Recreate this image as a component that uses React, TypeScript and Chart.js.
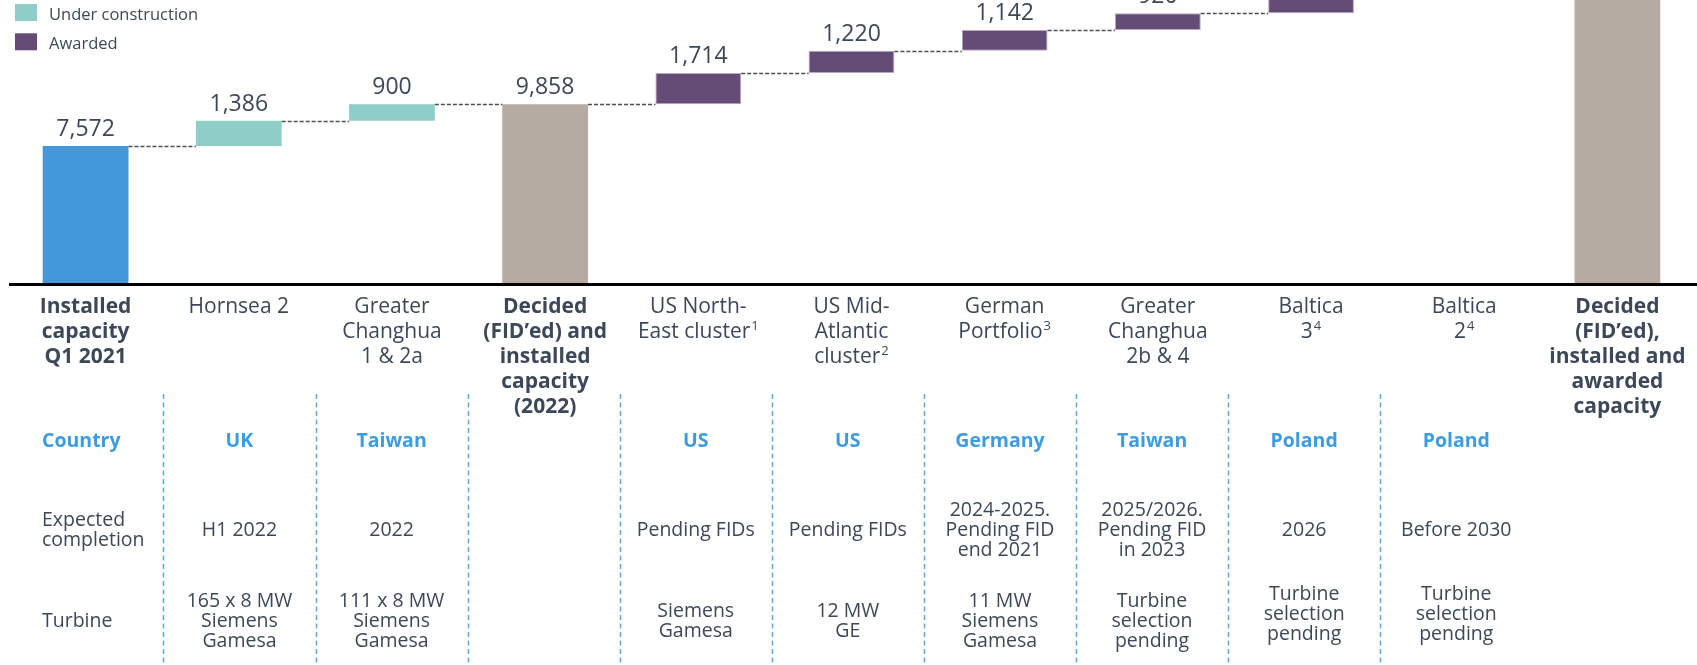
import React, { useEffect, useRef } from "react";
import { Chart, registerables } from "chart.js";

Chart.register(...registerables);

// ---------- data ----------
const categories = [
  "Installed capacity Q1 2021",
  "Hornsea 2",
  "Greater Changhua 1 & 2a",
  "Decided (FID'ed) and installed capacity (2022)",
  "US North-East cluster",
  "US Mid-Atlantic cluster",
  "German Portfolio",
  "Greater Changhua 2b & 4",
  "Baltica 3",
  "Baltica 2",
  "Decided (FID'ed), installed and awarded capacity",
];
// "^" marks a superscript part
const categoryLines: string[][] = [
  ["Installed", "capacity", "Q1 2021"],
  ["Hornsea 2"],
  ["Greater", "Changhua", "1 & 2a"],
  ["Decided", "(FID\u2019ed) and", "installed", "capacity", "(2022)"],
  ["US North-", "East cluster^1"],
  ["US Mid-", "Atlantic", "cluster^2"],
  ["German", "Portfolio^3"],
  ["Greater", "Changhua", "2b & 4"],
  ["Baltica", "3^4"],
  ["Baltica", "2^4"],
  ["Decided", "(FID\u2019ed),", "installed and", "awarded", "capacity"],
];
const categoryBold = [true, false, false, true, false, false, false, false, false, false, true];
const values = [7572, 1386, 900, 9858, 1714, 1220, 1142, 920, 1045, 1498, 17397];
const isTotal = [true, false, false, true, false, false, false, false, false, false, true];
const barKind = ["installed", "construction", "construction", "total", "awarded", "awarded", "awarded", "awarded", "awarded", "awarded", "total"];
const valueLabels = ["7,572", "1,386", "900", "9,858", "1,714", "1,220", "1,142", "920", "1,045", "1,498", "17,397"];

const countryRow = ["Country", "UK", "Taiwan", "", "US", "US", "Germany", "Taiwan", "Poland", "Poland", ""];
const completionRow: string[][] = [
  ["Expected", "completion"],
  ["H1 2022"],
  ["2022"],
  [],
  ["Pending FIDs"],
  ["Pending FIDs"],
  ["2024-2025.", "Pending FID", "end 2021"],
  ["2025/2026.", "Pending FID", "in 2023"],
  ["2026"],
  ["Before 2030"],
  [],
];
const turbineRow: string[][] = [
  ["Turbine"],
  ["165 x 8 MW", "Siemens", "Gamesa"],
  ["111 x 8 MW", "Siemens", "Gamesa"],
  [],
  ["Siemens", "Gamesa"],
  ["12 MW", "GE"],
  ["11 MW", "Siemens", "Gamesa"],
  ["Turbine", "selection", "pending"],
  ["Turbine", "selection", "pending"],
  ["Turbine", "selection", "pending"],
  [],
];
const legendLabels = ["Under construction", "Awarded"];
const legendKinds = ["construction", "awarded"];

// ---------- styles ----------
const COLORS: Record<string, string> = {
  installed: "#4298da",
  construction: "#8fcec7",
  awarded: "#654c76",
  total: "#b5aba2",
};
const TEXT = "#3c4858";
const BLUE_TEXT = "#3d9be0";
const FONT = '"Open Sans", "Noto Sans", sans-serif';
// table grid (slightly narrower than the bar columns in the source)
const TABLE_FIRST_SEP = 163.4;
const TABLE_COL_W = 152.1;
const TURBINE_SHIFT: Record<number, number> = { 8: -6.5, 9: -6.5 };

function App() {
  const ref = useRef<HTMLCanvasElement | null>(null);

  useEffect(() => {
    const canvas = ref.current;
    if (!canvas) return;

    const ranges: [number, number][] = [];
    const levels: number[] = [];
    let running = 0;
    values.forEach((v, i) => {
      if (isTotal[i]) {
        ranges.push([0, v]);
        running = v;
      } else {
        ranges.push([running, running + v]);
        running += v;
      }
      levels.push(running);
    });

    const drawRich = (
      ctx: CanvasRenderingContext2D,
      text: string,
      cx: number,
      y: number,
      font: string,
      supFont: string
    ) => {
      const parts = text.split("^");
      const base = parts[0];
      const sup = parts[1] || "";
      ctx.font = font;
      const wb = ctx.measureText(base).width;
      ctx.font = supFont;
      const ws = sup ? ctx.measureText(sup).width + 1 : 0;
      const x0 = cx - (wb + ws) / 2;
      ctx.textAlign = "left";
      ctx.font = font;
      ctx.fillText(base, x0, y);
      if (sup) {
        ctx.font = supFont;
        ctx.fillText(sup, x0 + wb + 1, y - 8);
      }
    };

    const overlay = {
      id: "waterfallOverlay",
      afterDatasetsDraw(chart: any) {
        const ctx: CanvasRenderingContext2D = chart.ctx;
        const meta = chart.getDatasetMeta(0);
        const y = chart.scales.y;
        const x = chart.scales.x;
        const n = categories.length;
        const centers = categories.map((_, i) => x.getPixelForValue(i));
        const tableCenter = (i: number) => TABLE_FIRST_SEP + (i - 0.5) * TABLE_COL_W;
        ctx.save();

        // connectors
        ctx.strokeStyle = "#4a4f57";
        ctx.lineWidth = 1.4;
        ctx.setLineDash([4, 2]);
        for (let i = 0; i < n - 1; i++) {
          const a: any = meta.data[i];
          const b: any = meta.data[i + 1];
          const yy = Math.round(y.getPixelForValue(levels[i])) + 0.5;
          ctx.beginPath();
          ctx.moveTo(a.x + a.width / 2, yy);
          ctx.lineTo(b.x - b.width / 2, yy);
          ctx.stroke();
        }
        ctx.setLineDash([]);

        // axis line
        ctx.strokeStyle = "#000";
        ctx.lineWidth = 3;
        const axisY = y.getPixelForValue(0) + 0.5;
        ctx.beginPath();
        ctx.moveTo(9, axisY);
        ctx.lineTo(chart.width, axisY);
        ctx.stroke();

        // value labels
        ctx.fillStyle = TEXT;
        ctx.textAlign = "center";
        ctx.textBaseline = "alphabetic";
        ctx.font = `23px ${FONT}`;
        for (let i = 0; i < n; i++) {
          const top = y.getPixelForValue(ranges[i][1]);
          ctx.fillText(valueLabels[i], centers[i], top - 10);
        }

        // category labels
        for (let i = 0; i < n; i++) {
          const font = `${categoryBold[i] ? "bold " : ""}21px ${FONT}`;
          const supFont = `${categoryBold[i] ? "bold " : ""}13px ${FONT}`;
          categoryLines[i].forEach((ln, k) => {
            drawRich(ctx, ln, centers[i], 312.5 + k * 25.2, font, supFont);
          });
        }

        // table dashed separators
        ctx.strokeStyle = "#5aa9e0";
        ctx.lineWidth = 1.5;
        ctx.setLineDash([5, 3.5]);
        for (let j = 0; j < 9; j++) {
          const xx = Math.round(TABLE_FIRST_SEP + j * TABLE_COL_W) + 0.5;
          ctx.beginPath();
          ctx.moveTo(xx, 394);
          ctx.lineTo(xx, chart.height);
          ctx.stroke();
        }
        ctx.setLineDash([]);

        // country row
        ctx.fillStyle = BLUE_TEXT;
        ctx.font = `bold 19.5px ${FONT}`;
        countryRow.forEach((t, i) => {
          if (!t) return;
          if (i === 0) {
            ctx.textAlign = "left";
            ctx.fillText(t, 42, 447);
          } else {
            ctx.textAlign = "center";
            ctx.fillText(t, tableCenter(i), 447);
          }
        });

        // completion & turbine rows
        const drawBlock = (rows: string[][], mid: number, gap: number, shift: Record<number, number>) => {
          ctx.fillStyle = TEXT;
          ctx.font = `19.5px ${FONT}`;
          rows.forEach((lines, i) => {
            const off = shift[i] || 0;
            lines.forEach((t, k) => {
              const yy = mid + off + (k - (lines.length - 1) / 2) * gap;
              if (i === 0) {
                ctx.textAlign = "left";
                ctx.fillText(t, 42, yy);
              } else {
                ctx.textAlign = "center";
                ctx.fillText(t, tableCenter(i), yy);
              }
            });
          });
        };
        drawBlock(completionRow, 536, 19.7, {});
        drawBlock(turbineRow, 626.7, 20, TURBINE_SHIFT);

        // legend
        ctx.textAlign = "left";
        legendLabels.forEach((t, i) => {
          const top = 4 + i * 29.3;
          ctx.fillStyle = COLORS[legendKinds[i]];
          ctx.fillRect(15, top, 22, 17);
          ctx.fillStyle = TEXT;
          ctx.font = `16.5px ${FONT}`;
          ctx.fillText(t, 49, top + 15.5);
        });

        ctx.restore();
      },
    };

    const chart = new Chart(canvas, {
      type: "bar",
      data: {
        labels: categories,
        datasets: [
          {
            data: ranges as any,
            backgroundColor: barKind.map((k) => COLORS[k]),
            borderColor: barKind.map((k) => (k === "awarded" ? "#b7a6c4" : COLORS[k])),
            borderWidth: barKind.map((k) => (k === "awarded" ? 1 : 0)),
            borderSkipped: false,
            barPercentage: 0.56,
            categoryPercentage: 1,
          },
        ],
      },
      options: {
        responsive: false,
        animation: false,
        layout: { padding: { left: 9, right: 3, top: 0, bottom: 381 } },
        scales: {
          x: { display: false },
          y: { display: false, min: 0, max: 15583 },
        },
        plugins: {
          legend: { display: false },
          tooltip: { enabled: false },
        },
      },
      plugins: [overlay],
    });

    return () => chart.destroy();
  }, []);

  return (
    <div style={{ position: "absolute", left: 0, top: 0, width: 1697, height: 665, background: "#fff" }}>
      <canvas ref={ref} width={1697} height={665} style={{ display: "block" }} />
    </div>
  );
}

export default App;
